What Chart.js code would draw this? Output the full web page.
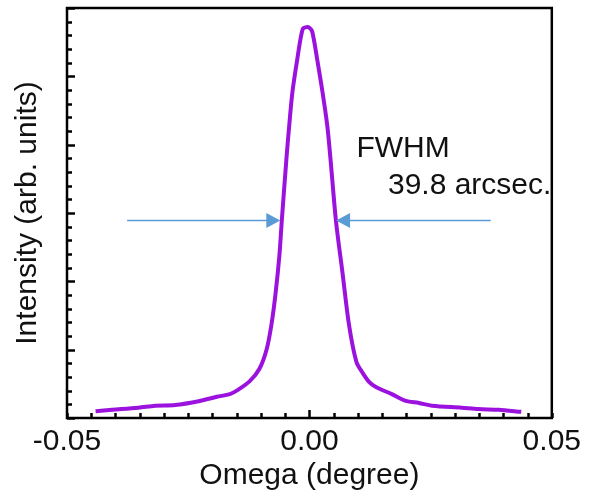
<!DOCTYPE html>
<html>
<head>
<meta charset="utf-8">
<script src="https://cdn.jsdelivr.net/npm/chart.js@4.4.1/dist/chart.umd.min.js"></script>
<style>
  html, body { margin: 0; padding: 0; background: #fff; }
  #wrap { width: 590px; height: 497px; }
</style>
</head>
<body>
<div id="wrap"><canvas id="rocking" width="590" height="497"></canvas></div>
<script>
// rocking curve
var omega = [
  -0.0441, -0.0407, -0.0353, -0.0318, -0.0277, -0.0226, -0.0191, -0.0164,
  -0.0150, -0.0123, -0.0103, -0.0088, -0.0078, -0.0070, -0.0062, -0.0057,
  -0.0047, -0.0041, -0.0035, -0.0025, -0.0014, -0.0006, 0.0000, 0.0006,
  0.0016, 0.0027, 0.0037, 0.0043, 0.0055, 0.0068, 0.0082, 0.0097,
  0.0109, 0.0123, 0.0138, 0.0170, 0.0199, 0.0226, 0.0253, 0.0314,
  0.0349, 0.0390, 0.0437
];
var intensity = [
  0.10, 0.12, 0.15, 0.18, 0.19, 0.25, 0.31, 0.35,
  0.40, 0.54, 0.72, 1.01, 1.38, 1.81, 2.37, 2.88,
  3.83, 4.33, 4.77, 5.25, 5.69, 5.72, 5.71, 5.65,
  5.25, 4.77, 4.27, 3.83, 2.87, 2.14, 1.35, 0.82,
  0.67, 0.53, 0.45, 0.35, 0.25, 0.22, 0.18, 0.15,
  0.13, 0.12, 0.09
];
var xTickLabels = [-0.05, 0.00, 0.05];

// FWHM arrows (tail x, tip x, y) in data units
var arrowLeft  = [-0.0376, -0.0060, 2.89];
var arrowRight = [ 0.0374,  0.0055, 2.89];

var FONT = "'Liberation Sans', Arial, sans-serif";

const frameTicks = {
  id: 'frameTicks',
  afterDatasetsDraw(chart) {
    const {ctx, chartArea: a, scales: {x, y}} = chart;
    ctx.save();
    ctx.strokeStyle = '#000';
    ctx.lineWidth = 2.5;
    ctx.lineCap = 'butt';
    // inward ticks, bottom axis
    for (let i = -10; i <= 10; i++) {
      const px = Math.round(x.getPixelForValue(i * 0.005)) + 0.5;
      const len = (i === 0) ? 8 : 5;
      ctx.beginPath();
      ctx.moveTo(px, a.bottom);
      ctx.lineTo(px, a.bottom - len);
      ctx.stroke();
    }
    // inward ticks, left axis
    for (let j = 0; j <= 30; j++) {
      const py = Math.round(y.getPixelForValue(j * 0.2)) + 0.5;
      const len = (j % 5 === 0) ? 8 : 5;
      ctx.beginPath();
      ctx.moveTo(a.left, py);
      ctx.lineTo(a.left + len, py);
      ctx.stroke();
    }
    ctx.strokeRect(a.left, a.top, a.right - a.left, a.bottom - a.top);

    // FWHM arrows
    ctx.strokeStyle = '#5B9BD5';
    ctx.fillStyle = '#5B9BD5';
    ctx.lineWidth = 1.5;
    [arrowLeft, arrowRight].forEach(function (ar) {
      const x0 = x.getPixelForValue(ar[0]);
      const x1 = x.getPixelForValue(ar[1]);
      const yy = y.getPixelForValue(ar[2]);
      const dir = x1 > x0 ? 1 : -1;
      ctx.beginPath();
      ctx.moveTo(x0, yy);
      ctx.lineTo(x1 - dir * 10, yy);
      ctx.stroke();
      ctx.beginPath();
      ctx.moveTo(x1, yy);
      ctx.lineTo(x1 - dir * 14, yy - 7.5);
      ctx.lineTo(x1 - dir * 14, yy + 7.5);
      ctx.closePath();
      ctx.fill();
    });

    // label
    ctx.fillStyle = '#111';
    ctx.font = '30px ' + FONT;
    ctx.textAlign = 'left';
    ctx.textBaseline = 'alphabetic';
    ctx.fillText('FWHM', x.getPixelForValue(0.0097), y.getPixelForValue(3.82));
    ctx.fillText('39.8 arcsec.', x.getPixelForValue(0.0162), y.getPixelForValue(3.28));
    ctx.restore();
  }
};

var ctx = document.getElementById('rocking');
var chart = new Chart(ctx, {
  type: 'line',
  data: {
    datasets: [{
      label: 'rocking curve',
      data: omega.map(function (v, i) { return {x: v, y: intensity[i]}; }),
      borderColor: '#9B12DE',
      borderWidth: 4,
      pointRadius: 0,
      tension: 0.3,
      fill: false,
    }]
  },
  options: {
    responsive: false,
    animation: false,
    layout: { padding: { left: 0, right: 37, top: 8, bottom: 0 } },
    plugins: {
      legend: { display: false },
      tooltip: { enabled: false },
    },
    scales: {
      x: {
        type: 'linear',
        min: -0.05,
        max: 0.05,
        afterBuildTicks: function (scale) {
          scale.ticks = xTickLabels.map(function (v) { return {value: v}; });
        },
        ticks: {
          color: '#111',
          padding: 9,
          maxRotation: 0,
          font: { family: FONT, size: 30, lineHeight: 1 },
          callback: function (v) { return v.toFixed(2); }
        },
        grid: { display: false, drawTicks: false },
        border: { display: false },
        title: {
          display: true,
          text: 'Omega (degree)',
          color: '#111',
          padding: { top: -5, bottom: 6 },
          font: { family: FONT, size: 30, lineHeight: 1 }
        }
      },
      y: {
        min: 0,
        max: 6,
        ticks: { display: false },
        grid: { display: false, drawTicks: false },
        border: { display: false },
        title: {
          display: true,
          text: 'Intensity (arb. units)',
          color: '#111',
          padding: { top: 10, bottom: 21 },
          font: { family: FONT, size: 30, lineHeight: 1.2 }
        }
      }
    }
  },
  plugins: [frameTicks]
});
</script>
</body>
</html>
